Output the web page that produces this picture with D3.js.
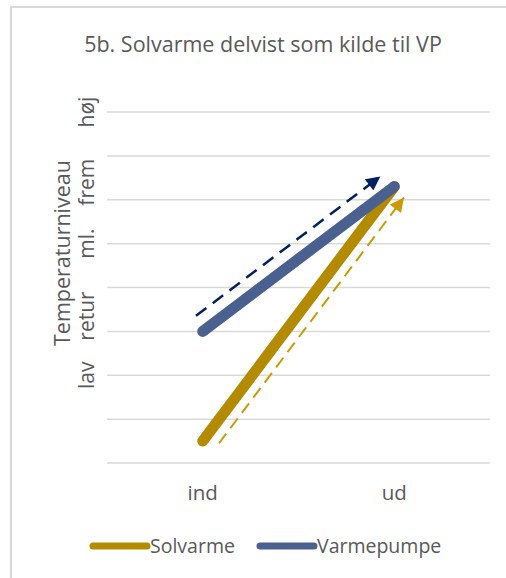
<!DOCTYPE html>
<html>
<head>
<meta charset="utf-8">
<script src="https://cdn.jsdelivr.net/npm/d3@7"></script>
<style>
  body { margin: 0; background: #fff; }
  text { font-family: "Open Sans", "Noto Sans", sans-serif; fill: #595959; }
</style>
</head>
<body>
<div id="chart"></div>
<script>
// data
var categories = ["ind", "ud"];
var solvarme = [0.5, 6.3];
var varmepumpe = [3.0, 6.3];
var seriesNames = ["Solvarme", "Varmepumpe"];
var yLevels = [0, 1, 2, 3, 4, 5, 6, 7, 8];
var yWordLabels = ["lav", "retur", "ml.", "frem", "høj"];
var yWordValues = [2, 3.35, 5, 6.4, 8];

var width = 506
var height = 578

var svg = d3.select("#chart")
    .append("svg")
    .attr("width", width)
    .attr("height", height)

// chart border
svg.append("rect")
    .attr("x", 11).attr("y", 7)
    .attr("width", 520).attr("height", 600)
    .attr("fill", "none")
    .attr("stroke", "#d9d9d9")
    .attr("stroke-width", 2)

var x = d3.scalePoint()
    .domain(categories)
    .range([107, 490])
    .padding(0.5)

var y = d3.scaleLinear()
    .domain([0, 8])
    .range([463, 112])

// gridlines
svg.selectAll(".grid")
    .data(yLevels)
    .enter()
    .append("line")
    .attr("x1", 107).attr("x2", 490)
    .attr("y1", function (d) { return y(d); })
    .attr("y2", function (d) { return y(d); })
    .attr("stroke", "#d9d9d9")
    .attr("stroke-width", 1.5)

// title
svg.append("text")
    .attr("x", 263).attr("y", 52)
    .attr("text-anchor", "middle")
    .style("font-size", "21.5px")
    .text("5b. Solvarme delvist som kilde til VP")

// x labels
svg.selectAll(".xlab")
    .data(categories)
    .enter()
    .append("text")
    .attr("x", function (d) { return x(d); })
    .attr("y", 500)
    .attr("text-anchor", "middle")
    .style("font-size", "20.5px")
    .text(function (d) { return d; })

// y axis title
svg.append("text")
    .attr("transform", "translate(70," + 253 + ") rotate(-90)")
    .attr("text-anchor", "middle")
    .style("font-size", "21.5px")
    .text("Temperaturniveau")

svg.selectAll(".ylab")
    .data(yWordLabels)
    .enter()
    .append("text")
    .attr("transform", function (d, i) { return "translate(94," + y(yWordValues[i]) + ") rotate(-90)"; })
    .attr("text-anchor", "middle")
    .style("font-size", "21px")
    .text(function (d) { return d; })

// arrow markers
var defs = svg.append("defs")
function addMarker(id, color) {
    defs.append("marker")
        .attr("id", id)
        .attr("viewBox", "0 0 10 10")
        .attr("refX", 10).attr("refY", 5)
        .attr("markerUnits", "userSpaceOnUse")
        .attr("markerWidth", 15).attr("markerHeight", 14)
        .attr("orient", "auto")
        .append("path")
        .attr("d", "M0,0 L10,5 L0,10 z")
        .attr("fill", color)
}
addMarker("arrNavy", "#002060")
addMarker("arrGold", "#c99b00")

// dashed arrow offset from a series line
function arrow(values, side, offset, trimStart, trimEnd, color, marker, dash, sw) {
    var x0 = x(categories[0]), y0 = y(values[0])
    var x1 = x(categories[1]), y1 = y(values[1])
    var dx = x1 - x0, dy = y1 - y0
    var len = Math.sqrt(dx * dx + dy * dy)
    var ux = dx / len, uy = dy / len
    var nx = side * uy, ny = -side * ux
    svg.append("line")
        .attr("x1", x0 + nx * offset + ux * trimStart)
        .attr("y1", y0 + ny * offset + uy * trimStart)
        .attr("x2", x1 + nx * offset - ux * trimEnd)
        .attr("y2", y1 + ny * offset - uy * trimEnd)
        .attr("stroke", color)
        .attr("stroke-width", sw)
        .attr("stroke-dasharray", dash)
        .attr("marker-end", "url(#" + marker + ")")
}
// navy arrow above-left of Varmepumpe, gold arrow right of Solvarme
arrow(varmepumpe, 1, 16.5, 4, 5, "#002060", "arrNavy", "13,8", 2.5)
arrow(solvarme, -1, 14.3, 8, 3, "#c99b00", "arrGold", "12,7", 2)

// series lines
var line = d3.line()
    .x(function (d, i) { return x(categories[i]); })
    .y(function (d) { return y(d); })

svg.append("path")
    .datum(solvarme)
    .attr("d", line)
    .attr("fill", "none")
    .attr("stroke", "#b38a00")
    .attr("stroke-width", 11)
    .attr("stroke-linecap", "round")

svg.append("path")
    .datum(varmepumpe)
    .attr("d", line)
    .attr("fill", "none")
    .attr("stroke", "#4a6190")
    .attr("stroke-width", 11)
    .attr("stroke-linecap", "round")

// legend
var legendColors = ["#b38a00", "#4a6190"]
var legendX = [93, 260]
var leg = svg.selectAll(".leg")
    .data(seriesNames)
    .enter()
    .append("g")
    .attr("transform", function (d, i) { return "translate(" + legendX[i] + ",546)"; })
leg.append("line")
    .attr("x1", 0).attr("x2", 54)
    .attr("stroke", function (d, i) { return legendColors[i]; })
    .attr("stroke-width", 7)
    .attr("stroke-linecap", "round")
leg.append("text")
    .attr("x", 57).attr("y", 7)
    .style("font-size", "19.5px")
    .text(function (d) { return d; })
</script>
</body>
</html>
